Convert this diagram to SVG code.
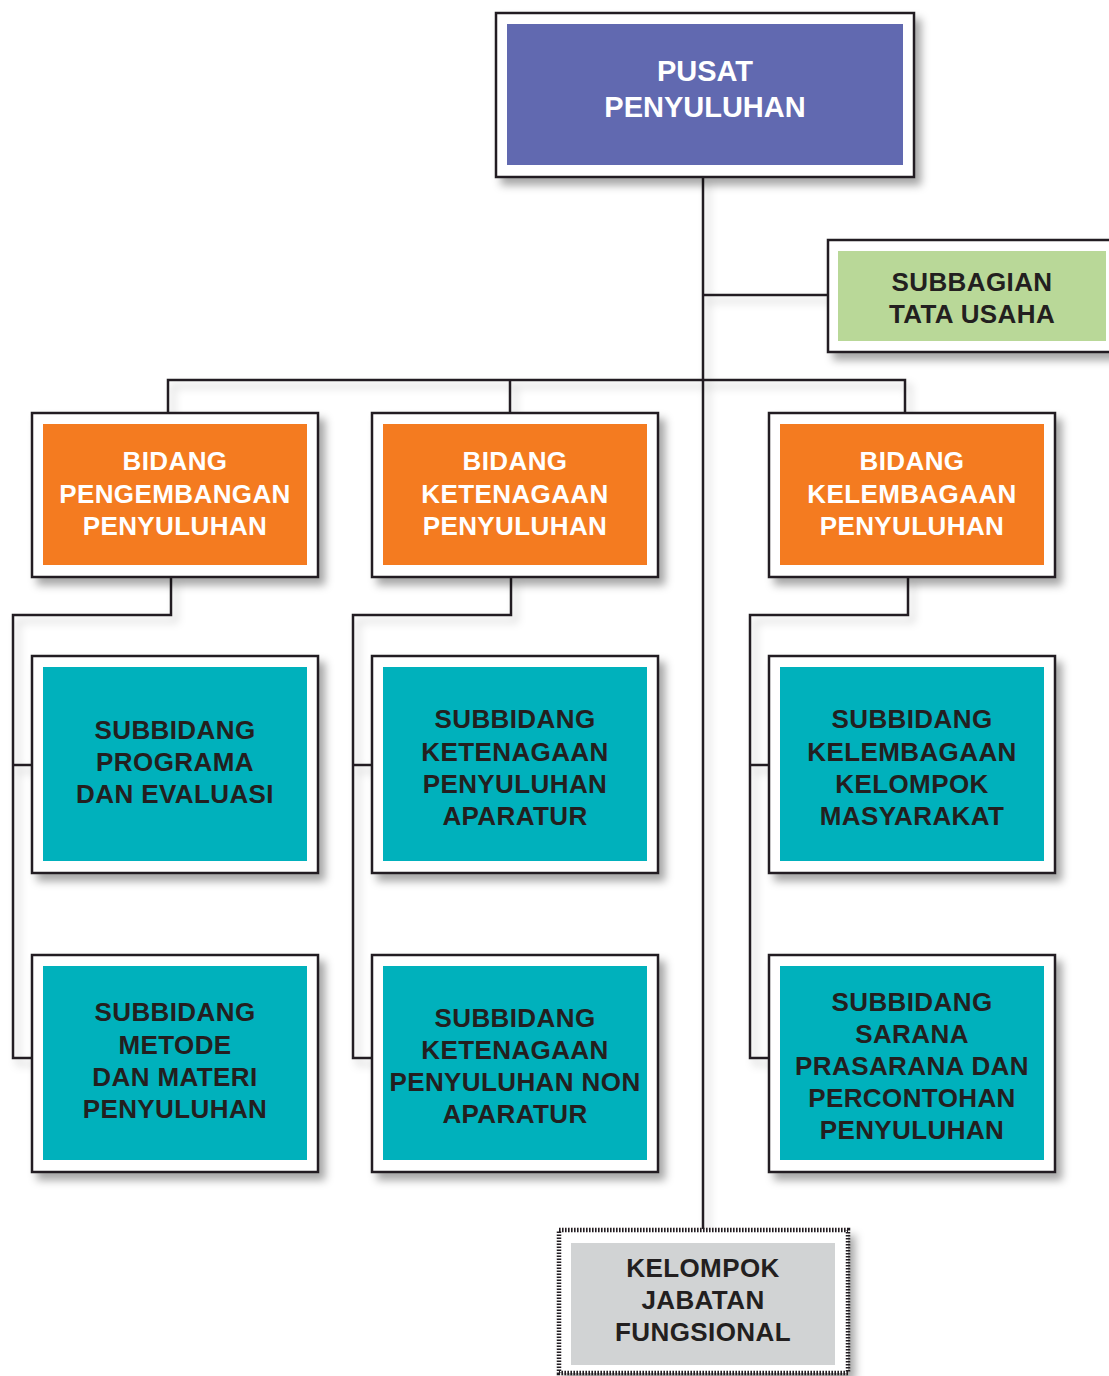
<svg xmlns="http://www.w3.org/2000/svg" width="1109" height="1376" viewBox="0 0 1109 1376">
<defs>
<filter id="sh" x="-10%" y="-10%" width="130%" height="130%">
<feDropShadow dx="6" dy="7" stdDeviation="4" flood-color="#000" flood-opacity="0.35"/>
</filter>
<filter id="shl" x="-20%" y="-20%" width="140%" height="140%">
<feDropShadow dx="5" dy="6" stdDeviation="4" flood-color="#000" flood-opacity="0.22"/>
</filter>
</defs>
<style>
.frame{fill:#fff;stroke:#231f20;stroke-width:2.5}
.dash{fill:#fff;stroke:#231f20;stroke-width:4.5;stroke-dasharray:1.6 1.4}
.blue{fill:#6169b0}
.green{fill:#b9d898}
.orange{fill:#f47b20}
.teal{fill:#00b1bc}
.gray{fill:#d1d3d4}
text{font-family:"Liberation Sans",Arial,sans-serif;font-weight:bold;text-anchor:middle;font-size:26px;letter-spacing:0.4px}
.w{fill:#fff}
.d{fill:#231f20}
.con{fill:none;stroke:#231f20;stroke-width:2.5}
</style>
<g id="connectors" filter="url(#shl)">
<path class="con" d="M703 177V1229"/>
<path class="con" d="M703 295H828"/>
<path class="con" d="M168 413V380H905V413"/>
<path class="con" d="M510 380V413"/>
<path class="con" d="M171 577V615H13V1058H32"/>
<path class="con" d="M13 765H32"/>
<path class="con" d="M511 577V615H353V1058H372"/>
<path class="con" d="M353 765H372"/>
<path class="con" d="M908 577V615H750V1058H769"/>
<path class="con" d="M750 765H769"/>
</g>
<g id="pusat">
<rect class="frame" x="496" y="13" width="418" height="164" filter="url(#sh)"/>
<rect class="blue" x="507" y="24" width="396" height="141"/>
<text class="w" x="705" y="80.5" style="font-size:29px;letter-spacing:0">PUSAT</text>
<text class="w" x="705" y="116.5" style="font-size:29px;letter-spacing:0">PENYULUHAN</text>
</g>
<g id="subbagian">
<rect class="frame" x="828" y="240" width="290" height="112" filter="url(#sh)"/>
<rect class="green" x="838" y="251" width="268" height="90"/>
<text class="d" x="972" y="291">SUBBAGIAN</text>
<text class="d" x="972" y="323">TATA USAHA</text>
</g>
<g id="bidang1">
<rect class="frame" x="32" y="413" width="286" height="164" filter="url(#sh)"/>
<rect class="orange" x="43" y="424" width="264" height="141"/>
<text class="w" x="175" y="470">BIDANG</text>
<text class="w" x="175" y="502.5">PENGEMBANGAN</text>
<text class="w" x="175" y="535">PENYULUHAN</text>
</g>
<g id="bidang2">
<rect class="frame" x="372" y="413" width="286" height="164" filter="url(#sh)"/>
<rect class="orange" x="383" y="424" width="264" height="141"/>
<text class="w" x="515" y="470">BIDANG</text>
<text class="w" x="515" y="502.5">KETENAGAAN</text>
<text class="w" x="515" y="535">PENYULUHAN</text>
</g>
<g id="bidang3">
<rect class="frame" x="769" y="413" width="286" height="164" filter="url(#sh)"/>
<rect class="orange" x="780" y="424" width="264" height="141"/>
<text class="w" x="912" y="470">BIDANG</text>
<text class="w" x="912" y="502.5">KELEMBAGAAN</text>
<text class="w" x="912" y="535">PENYULUHAN</text>
</g>
<g id="sub1a">
<rect class="frame" x="32" y="656" width="286" height="217" filter="url(#sh)"/>
<rect class="teal" x="43" y="667" width="264" height="194"/>
<text class="d" x="175" y="739">SUBBIDANG</text>
<text class="d" x="175" y="771">PROGRAMA</text>
<text class="d" x="175" y="803">DAN EVALUASI</text>
</g>
<g id="sub2a">
<rect class="frame" x="372" y="656" width="286" height="217" filter="url(#sh)"/>
<rect class="teal" x="383" y="667" width="264" height="194"/>
<text class="d" x="515" y="728">SUBBIDANG</text>
<text class="d" x="515" y="760.5">KETENAGAAN</text>
<text class="d" x="515" y="792.5">PENYULUHAN</text>
<text class="d" x="515" y="824.5">APARATUR</text>
</g>
<g id="sub3a">
<rect class="frame" x="769" y="656" width="286" height="217" filter="url(#sh)"/>
<rect class="teal" x="780" y="667" width="264" height="194"/>
<text class="d" x="912" y="728">SUBBIDANG</text>
<text class="d" x="912" y="760.5">KELEMBAGAAN</text>
<text class="d" x="912" y="792.5">KELOMPOK</text>
<text class="d" x="912" y="824.5">MASYARAKAT</text>
</g>
<g id="sub1b">
<rect class="frame" x="32" y="955" width="286" height="217" filter="url(#sh)"/>
<rect class="teal" x="43" y="966" width="264" height="194"/>
<text class="d" x="175" y="1021">SUBBIDANG</text>
<text class="d" x="175" y="1053.5">METODE</text>
<text class="d" x="175" y="1085.5">DAN MATERI</text>
<text class="d" x="175" y="1117.5">PENYULUHAN</text>
</g>
<g id="sub2b">
<rect class="frame" x="372" y="955" width="286" height="217" filter="url(#sh)"/>
<rect class="teal" x="383" y="966" width="264" height="194"/>
<text class="d" x="515" y="1027">SUBBIDANG</text>
<text class="d" x="515" y="1059">KETENAGAAN</text>
<text class="d" x="515" y="1091">PENYULUHAN NON</text>
<text class="d" x="515" y="1123">APARATUR</text>
</g>
<g id="sub3b">
<rect class="frame" x="769" y="955" width="286" height="217" filter="url(#sh)"/>
<rect class="teal" x="780" y="966" width="264" height="194"/>
<text class="d" x="912" y="1011">SUBBIDANG</text>
<text class="d" x="912" y="1043">SARANA</text>
<text class="d" x="912" y="1075">PRASARANA DAN</text>
<text class="d" x="912" y="1107">PERCONTOHAN</text>
<text class="d" x="912" y="1139">PENYULUHAN</text>
</g>
<g id="kelompok">
<rect class="dash" x="559" y="1230" width="289" height="143" filter="url(#sh)"/>
<rect class="gray" x="571" y="1243" width="264" height="122"/>
<text class="d" x="703" y="1277">KELOMPOK</text>
<text class="d" x="703" y="1309">JABATAN</text>
<text class="d" x="703" y="1341">FUNGSIONAL</text>
</g>
</svg>
